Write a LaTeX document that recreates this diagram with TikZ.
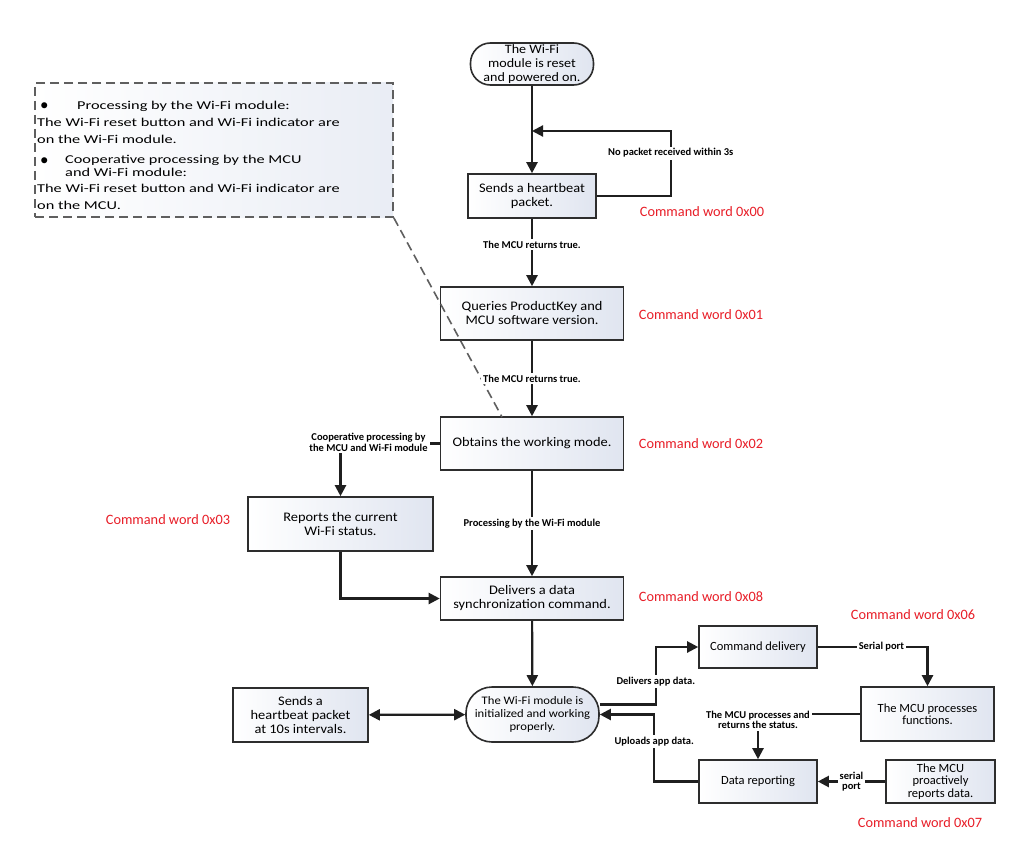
\documentclass[tikz,border=0pt]{standalone}
\usepackage{fontspec}
\setmainfont{Carlito}
\newfontfamily\notefont[FakeStretch=1.36]{Carlito}
\newfontfamily\boxfont[FakeStretch=1.1]{Carlito}
\usetikzlibrary{arrows.meta}
\definecolor{cwred}{RGB}{232,30,40}
\definecolor{boxend}{RGB}{224,229,240}
\definecolor{edge}{RGB}{45,45,45}
\definecolor{notegray}{RGB}{95,95,95}
\tikzset{
  box/.style={draw=edge, line width=1.6pt, rectangle, align=center,
    font=\boxfont\fontsize{13.1}{14}\selectfont, left color=white, right color=boxend, inner sep=1pt},
  small/.style={font=\fontsize{12.5}{12.3}\selectfont},
  term/.style={box, rounded corners=20pt, inner sep=0pt},
  cw/.style={text=cwred, font=\fontsize{14.3}{16}\selectfont},
  lab/.style={font=\fontsize{10.5}{10.5}\selectfont\bfseries, align=center, fill=white, inner sep=2pt},
  conn/.style={line width=2.2pt, draw=black!88, -{Triangle[length=11pt,width=11pt]}},
  both/.style={line width=2.2pt, draw=black!88, {Triangle[length=11pt,width=11pt]}-{Triangle[length=11pt,width=11pt]}},
  notebox/.style={draw=notegray, line width=1.6pt, dash pattern=on 9pt off 5pt, left color=white, right color=boxend!70},
  noteline/.style={draw=notegray, line width=1.6pt, dash pattern=on 9pt off 5pt},
  nt/.style={anchor=base west, inner sep=0pt, font=\notefont\fontsize{12}{14}\selectfont},
  bul/.style={anchor=base west, inner sep=0pt, font=\fontsize{17}{17}\selectfont},
}
\begin{document}
\begin{tikzpicture}[x=1pt,y=-1pt]
\fill[white] (0,0) rectangle (1020,848);
\useasboundingbox (0,0) rectangle (1020,848);

% note box
\node[notebox, minimum width=358pt, minimum height=134pt] (note) at (214,150) {};
\node[bul] (nb1) at (40,111) {\textbullet};
\node[nt] (n1) at (77,110) {Processing by the Wi-Fi module:};
\node[nt] (n2) at (37,127) {The Wi-Fi reset button and Wi-Fi indicator are};
\node[nt] (n3) at (37,144) {on the Wi-Fi module.};
\node[bul] (nb2) at (40,165) {\textbullet};
\node[nt] (n4) at (65,164) {Cooperative processing by the MCU};
\node[nt] (n5) at (65,176) {and Wi-Fi module:};
\node[nt] (n6) at (37,193) {The Wi-Fi reset button and Wi-Fi indicator are};
\node[nt] (n7) at (37,209) {on the MCU.};

% main column
\node[term, minimum width=123pt, minimum height=42pt, font=\boxfont\fontsize{12.8}{14}\selectfont] (start) at (532,64)
  {The Wi-Fi\\module is reset\\and powered on.};
\node[box, minimum width=128pt, minimum height=44pt] (hb) at (532,196) {Sends a heartbeat\\packet.};
\node[box, minimum width=183pt, minimum height=53pt] (query) at (532,313.5) {Queries ProductKey and\\MCU software version.};
\node[box, minimum width=183pt, minimum height=53pt] (obtain) at (532,443.5) {Obtains the working mode.};
\node[box, minimum width=185pt, minimum height=54pt] (report) at (340.5,524) {Reports the current\\Wi-Fi status.};
\node[box, minimum width=183pt, minimum height=43pt] (deliver) at (532,598.5) {Delivers a data\\synchronization command.};
\node[term, minimum width=133pt, minimum height=55pt, rounded corners=26pt, font=\boxfont\fontsize{11.5}{12.8}\selectfont] (work) at (532.5,714.5)
  {The Wi-Fi module is\\initialized and working\\properly.};
\node[box, minimum width=135pt, minimum height=54pt] (hbten) at (300.5,715) {Sends a\\heartbeat packet\\at 10s intervals.};

% right cluster
\node[box, small, minimum width=118pt, minimum height=42pt] (cmd) at (758,647) {Command delivery};
\node[box, small, minimum width=133pt, minimum height=54pt] (mcu) at (927.5,714) {The MCU processes\\functions.};
\node[box, small, minimum width=118pt, minimum height=43pt] (datarep) at (758,781.5) {Data reporting};
\node[box, small, minimum width=109pt, minimum height=43pt] (proact) at (940.5,781.5) {The MCU\\proactively\\reports data.};

% command words
\node[cw] (cw0) at (702,212) {Command word 0x00};
\node[cw] (cw1) at (701,315) {Command word 0x01};
\node[cw] (cw2) at (701,444) {Command word 0x02};
\node[cw] (cw3) at (168,520) {Command word 0x03};
\node[cw] (cw8) at (701,597) {Command word 0x08};
\node[cw] (cw6) at (913,615) {Command word 0x06};
\node[cw] (cw7) at (920,823) {Command word 0x07};

% dashed pointer
\coordinate (dashend) at (502,417);
\draw[noteline] (note.south east) -- (dashend);

% connectors
\coordinate (loopin) at (532,131);
\draw[conn] (start) -- (hb);
\draw[conn] (hb.east) -- ++(74,0) |- (loopin) node[lab, pos=0.33] {No packet received within 3s};
\draw[conn] (hb) -- (query) node[lab, pos=0.38] {The MCU returns true.};
\draw[conn] (query) -- (obtain) node[lab, midway] {The MCU returns true.};
\draw[conn] (obtain.west) -| (report.north) node[lab, pos=0.5, xshift=28pt, yshift=1pt] {Cooperative processing by\\the MCU and Wi-Fi module};
\draw[conn] (obtain) -- (deliver) node[lab, midway] {Processing by the Wi-Fi module};
\draw[conn] (report.south) |- (deliver.west);
\draw[conn] (deliver) -- (work);
\draw[both] (hbten) -- (work);

\draw[conn] ([yshift=10pt]work.east) -- ++(56,0) |- (cmd.west) node[lab, pos=0.2] {Delivers app data.};
\draw[conn] (datarep.west) -- ++(-44,0) |- (work.east) node[lab, pos=0.3] {Uploads app data.};
\draw[conn] (cmd.east) -| (mcu.north) node[lab, pos=0.29] {Serial port};
\draw[conn] (mcu.west) -| (datarep.north) node[lab, pos=0.5, yshift=-6pt] {The MCU processes and\\returns the status.};
\draw[conn] (proact.west) -- (datarep.east) node[lab, midway] {serial\\port};
\end{tikzpicture}
\end{document}
